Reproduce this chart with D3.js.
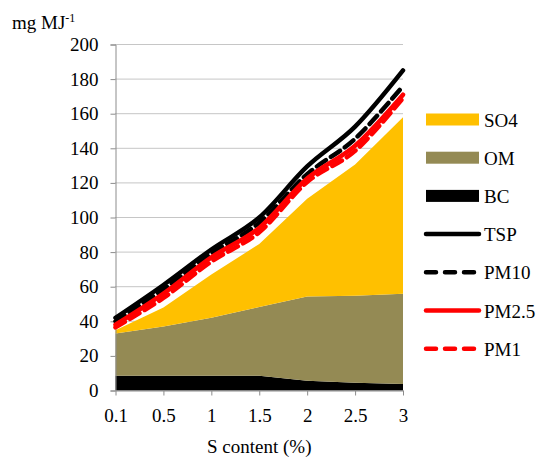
<!DOCTYPE html>
<html>
<head>
<meta charset="utf-8">
<script src="https://cdn.jsdelivr.net/npm/d3@7"></script>
<style>
  body { margin: 0; background: #fff; }
  svg text { font-family: "Liberation Serif", "DejaVu Serif", "Noto Serif", "Times New Roman", Tinos, FreeSerif, "Nimbus Roman", Georgia, serif !important; fill: #000; }
</style>
</head>
<body>
<script>
const w = 544;
const h = 466;

// categories (S content, %)
const sContent = ["0.1", "0.5", "1", "1.5", "2", "2.5", "3"];

// stacked components
const bc = [8.5, 8.5, 8.5, 8.5, 5.6, 4.5, 3.7];
const om = [24.5, 28.5, 33.5, 39.7, 48.7, 50.2, 52.2];
const so4 = [1.8, 11, 25, 36.5, 56.5, 76, 102];

// total mass lines
const tsp = [42, 61, 81.5, 100, 129.5, 152.5, 185];
const pm10 = [40, 58.5, 79, 97, 125, 145.5, 176];
const pm25 = [38, 56, 77, 94, 122.5, 141.5, 171];
const pm1 = [36.5, 53.5, 74.5, 91.5, 120.5, 138.5, 169];

const yTicks = [0, 20, 40, 60, 80, 100, 120, 140, 160, 180, 200];

const margin = { top: 44.5, left: 115.5, right: 141, bottom: 75.5 };

const svg = d3.select("body").append("svg").attr("width", w).attr("height", h);

const x = d3
  .scalePoint()
  .domain(sContent)
  .range([margin.left, w - margin.right]);

const y = d3
  .scaleLinear()
  .domain([0, 200])
  .range([h - margin.bottom, margin.top]);

// gridlines
svg
  .append("g")
  .selectAll("line")
  .data(yTicks.slice(1))
  .join("line")
  .attr("x1", margin.left)
  .attr("x2", w - margin.right)
  .attr("y1", (d) => y(d))
  .attr("y2", (d) => y(d))
  .attr("stroke", "#8c8c8c")
  .attr("stroke-width", 1)
  .attr("stroke-dasharray", "1,1");

// stacked areas
const rows = sContent.map((s, i) => ({ s: s, BC: bc[i], OM: om[i], SO4: so4[i] }));
const stack = d3.stack().keys(["BC", "OM", "SO4"]);
const layers = stack(rows);
const areaColor = { BC: "#000000", OM: "#948A54", SO4: "#FFC000" };

const area = d3
  .area()
  .x((d) => x(d.data.s))
  .y0((d) => y(d[0]))
  .y1((d) => y(d[1]));

svg
  .append("g")
  .selectAll("path")
  .data(layers)
  .join("path")
  .attr("fill", (d) => areaColor[d.key])
  .attr("d", area);

// axes
const yAxis = d3.axisLeft(y).tickValues(yTicks).tickSize(5).tickPadding(12);
const gy = svg
  .append("g")
  .attr("transform", `translate(${margin.left},0)`)
  .call(yAxis);
gy.attr("font-family", null).selectAll("text").attr("font-size", 19);

const xAxis = d3.axisBottom(x).tickSize(5).tickPadding(13).tickSizeOuter(0);
const gx = svg
  .append("g")
  .attr("transform", `translate(0,${h - margin.bottom})`)
  .call(xAxis);
gx.attr("font-family", null).selectAll("text").attr("font-size", 19);

svg.selectAll(".domain, .tick line").attr("stroke", "#8c8c8c");

// lines
const series = [
  { name: "TSP", values: tsp, color: "#000000", dash: null },
  { name: "PM10", values: pm10, color: "#000000", dash: "11,6" },
  { name: "PM2.5", values: pm25, color: "#FF0000", dash: null },
  { name: "PM1", values: pm1, color: "#FF0000", dash: "11,6" },
];

const line = d3
  .line()
  .x((d, i) => x(sContent[i]))
  .y((d) => y(d))
  .curve(d3.curveCatmullRom.alpha(0));

svg
  .append("g")
  .selectAll("path")
  .data(series)
  .join("path")
  .attr("fill", "none")
  .attr("stroke", (d) => d.color)
  .attr("stroke-width", 4.5)
  .attr("stroke-linecap", "round")
  .attr("stroke-dasharray", (d) => d.dash)
  .attr("d", (d) => line(d.values));

// legend
const legendItems = [
  { name: "SO4", type: "area", color: areaColor.SO4 },
  { name: "OM", type: "area", color: areaColor.OM },
  { name: "BC", type: "area", color: areaColor.BC },
].concat(series.map((d) => ({ name: d.name, type: "line", color: d.color, dash: d.dash })));

const lg = svg
  .append("g")
  .selectAll("g")
  .data(legendItems)
  .join("g")
  .attr("transform", (d, i) => `translate(0,${119.5 + i * 38.2})`);

lg.filter((d) => d.type === "area")
  .append("rect")
  .attr("x", 426)
  .attr("y", -6)
  .attr("width", 53)
  .attr("height", 12)
  .attr("fill", (d) => d.color);

lg.filter((d) => d.type === "line")
  .append("line")
  .attr("x1", 426)
  .attr("x2", 479)
  .attr("stroke", (d) => d.color)
  .attr("stroke-width", 4.5)
  .attr("stroke-linecap", "round")
  .attr("stroke-dasharray", (d) => (d.dash ? "10,9" : null));

lg.append("text")
  .attr("x", 484)
  .attr("y", 7)
  .attr("font-size", 19)
  .text((d) => d.name);

// axis titles
const yt = svg.append("text").attr("x", 12).attr("y", 29).attr("font-size", 19);
yt.append("tspan").text("mg MJ");
yt.append("tspan").attr("dy", -7).attr("font-size", 12).text("-1");

svg
  .append("text")
  .attr("x", x("1.5"))
  .attr("y", 453)
  .attr("text-anchor", "middle")
  .attr("font-size", 19)
  .text("S content (%)");
</script>
</body>
</html>
